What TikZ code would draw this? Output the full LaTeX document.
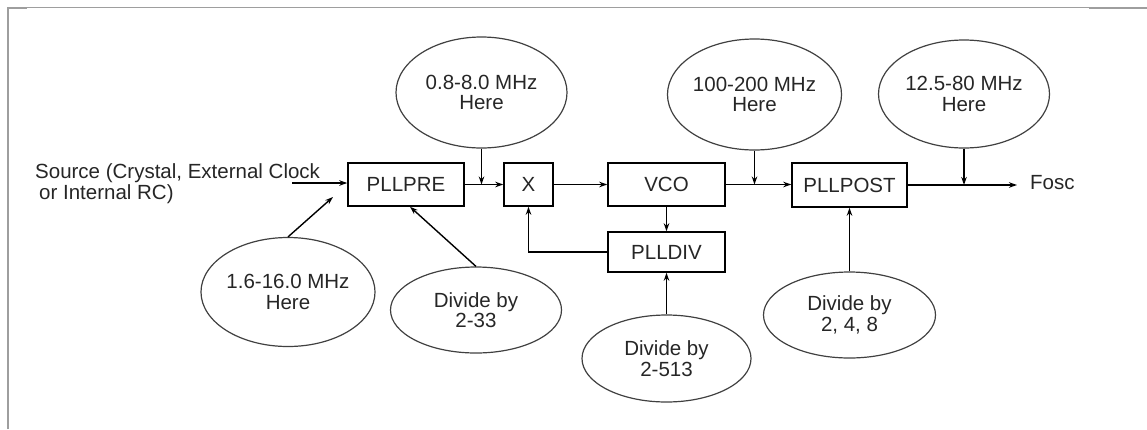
\documentclass[tikz,border=0pt]{standalone}
\usepackage{fontspec}
\setmainfont{Liberation Sans}
\usetikzlibrary{shapes.geometric,arrows.meta}
\begin{document}
\begin{tikzpicture}[x=1pt,y=-1pt,
  every node/.style={font=\fontsize{20.5}{20.5}\selectfont, text=black!85},
  blk/.style={draw=black, line width=1.5pt, inner sep=0pt, minimum width=#1, minimum height=43pt},
  bub/.style={ellipse, draw=black!75, line width=1.2pt, inner sep=0pt, align=center, minimum width=171pt, minimum height=#1},
  arr/.style={draw=black, line width=1.4pt, -{Stealth[length=8pt,width=5.5pt]}},
  framel/.style={draw=black!38}
]
\useasboundingbox (0,0) rectangle (1147,429);
% frame
\draw[framel, line width=1pt] (8,7.5) -- (1147,7.5);
\draw[framel, line width=2pt] (8,429) -- (8,7.5) -- (27,7.5);
\draw[framel, line width=2pt] (1089,8) -- (1147,8);

% blocks
\node[blk=116pt] (pre) at (406,184.5) {PLLPRE};
\node[blk=49pt] (x) at (528.5,184.5) {X};
\node[blk=117pt] (vco) at (666.5,184.5) {VCO};
\node[blk=117pt, minimum height=40pt] (div) at (666.5,252) {PLLDIV};
\node[blk=115pt, minimum height=44pt] (post) at (849.5,185) {PLLPOST};

% bubbles
\node[bub=109pt] (e1) at (288,292) {1.6-16.0 MHz\\Here};
\node[bub=111pt] (e2) at (481.5,92.5) {0.8-8.0 MHz\\Here};
\node[bub=111pt, minimum width=174pt] (e3) at (754.5,94.5) {100-200 MHz\\Here};
\node[bub=108pt] (e4) at (964,94) {12.5-80 MHz\\Here};
\node[bub=86pt] (d1) at (476,310) {Divide by\\2-33};
\node[bub=87pt, minimum width=169pt] (d2) at (666.5,358.5) {Divide by\\2-513};
\node[bub=86pt, minimum width=172pt] (d3) at (849.5,315) {Divide by\\2, 4, 8};

% texts
\node[anchor=base west, align=left, inner sep=0pt] (srct) at (35,199) {Source (Crystal, External Clock\\\hspace*{4pt}or Internal RC)};
\node[anchor=west, inner sep=0pt] (fosct) at (1030,183) {Fosc};

% free ends
\coordinate (src) at (292,183);
\coordinate (e1tip) at (333,197);
\coordinate (fosc) at (1017,185);

% connectors
\draw[arr] (src) -- (src -| pre.west);
\draw[arr] (e1.north) -- (e1tip);
\draw[arr] (d1.north) -- ([xshift=4pt]pre.south);
\draw[arr] (e2.south) -- (e2.south |- pre.east);
\draw[arr] (pre.east) -- (x.west);
\draw[arr] (x.east) -- (vco.west);
\draw[arr] (vco.south) -- (div.north);
\draw[arr] (div.west) -| (x.south);
\draw[arr] (d2.north) -- (div.south);
\draw[arr] (vco.east) -- (vco.east -| post.west);
\draw[arr] (e3.south) -- (e3.south |- vco.east);
\draw[arr] (post.east) -- (fosc);
\draw[arr] (e4.south) -- (e4.south |- post.east);
\draw[arr] (d3.north) -- (post.south);
\end{tikzpicture}
\end{document}
